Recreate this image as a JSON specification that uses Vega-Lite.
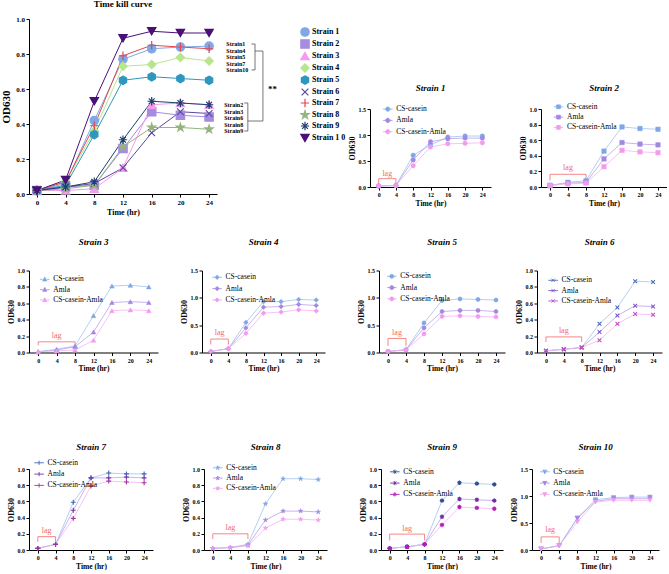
{
"$schema":"https://vega.github.io/schema/vega-lite/v6.json",
"padding":{"left":0,"top":0,"right":0,"bottom":0},
"background":"white",
"config":{
 "font":"Liberation Serif",
 "view":{"stroke":null},
 "title":{"font":"Liberation Serif","fontSize":9,"fontStyle":"italic","fontWeight":"bold","color":"#000","anchor":"middle"},
 "axis":{"domainColor":"#000","tickColor":"#000","labelColor":"#000","titleColor":"#000","domainWidth":1,"tickWidth":1,"tickSize":3,"labelFont":"Liberation Serif","labelFontWeight":"bold","labelFontSize":6,"titleFont":"Liberation Serif","titleFontWeight":"bold","titleFontSize":8,"grid":false,"labelPadding":1.5,"titlePadding":1.5,"labelOverlap":false,"tickCount":50},
 "legend":{"labelFont":"Liberation Serif","labelColor":"#000","labelFontSize":7.5,"padding":0,"rowPadding":1.3,"symbolOpacity":1,"labelOffset":3},
 "text":{"font":"Liberation Serif"}
},
"datasets":{
"main":[
{"strain":"Strain 1","time":0,"od":0.02},{"strain":"Strain 1","time":4,"od":0.06},{"strain":"Strain 1","time":8,"od":0.42},{"strain":"Strain 1","time":12,"od":0.77},{"strain":"Strain 1","time":16,"od":0.83},{"strain":"Strain 1","time":20,"od":0.84},{"strain":"Strain 1","time":24,"od":0.845},
{"strain":"Strain 2","time":0,"od":0.02},{"strain":"Strain 2","time":4,"od":0.04},{"strain":"Strain 2","time":8,"od":0.05},{"strain":"Strain 2","time":12,"od":0.26},{"strain":"Strain 2","time":16,"od":0.47},{"strain":"Strain 2","time":20,"od":0.45},{"strain":"Strain 2","time":24,"od":0.44},
{"strain":"Strain 3","time":0,"od":0.02},{"strain":"Strain 3","time":4,"od":0.02},{"strain":"Strain 3","time":8,"od":0.03},{"strain":"Strain 3","time":12,"od":0.15},{"strain":"Strain 3","time":16,"od":0.51},{"strain":"Strain 3","time":20,"od":0.52},{"strain":"Strain 3","time":24,"od":0.51},
{"strain":"Strain 4","time":0,"od":0.02},{"strain":"Strain 4","time":4,"od":0.07},{"strain":"Strain 4","time":8,"od":0.36},{"strain":"Strain 4","time":12,"od":0.73},{"strain":"Strain 4","time":16,"od":0.74},{"strain":"Strain 4","time":20,"od":0.78},{"strain":"Strain 4","time":24,"od":0.76},
{"strain":"Strain 5","time":0,"od":0.02},{"strain":"Strain 5","time":4,"od":0.05},{"strain":"Strain 5","time":8,"od":0.34},{"strain":"Strain 5","time":12,"od":0.65},{"strain":"Strain 5","time":16,"od":0.67},{"strain":"Strain 5","time":20,"od":0.66},{"strain":"Strain 5","time":24,"od":0.65},
{"strain":"Strain 6","time":0,"od":0.02},{"strain":"Strain 6","time":4,"od":0.04},{"strain":"Strain 6","time":8,"od":0.06},{"strain":"Strain 6","time":12,"od":0.15},{"strain":"Strain 6","time":16,"od":0.35},{"strain":"Strain 6","time":20,"od":0.47},{"strain":"Strain 6","time":24,"od":0.46},
{"strain":"Strain 7","time":0,"od":0.02},{"strain":"Strain 7","time":4,"od":0.07},{"strain":"Strain 7","time":8,"od":0.39},{"strain":"Strain 7","time":12,"od":0.79},{"strain":"Strain 7","time":16,"od":0.85},{"strain":"Strain 7","time":20,"od":0.84},{"strain":"Strain 7","time":24,"od":0.83},
{"strain":"Strain 8","time":0,"od":0.02},{"strain":"Strain 8","time":4,"od":0.03},{"strain":"Strain 8","time":8,"od":0.05},{"strain":"Strain 8","time":12,"od":0.27},{"strain":"Strain 8","time":16,"od":0.38},{"strain":"Strain 8","time":20,"od":0.38},{"strain":"Strain 8","time":24,"od":0.37},
{"strain":"Strain 9","time":0,"od":0.02},{"strain":"Strain 9","time":4,"od":0.04},{"strain":"Strain 9","time":8,"od":0.07},{"strain":"Strain 9","time":12,"od":0.31},{"strain":"Strain 9","time":16,"od":0.53},{"strain":"Strain 9","time":20,"od":0.52},{"strain":"Strain 9","time":24,"od":0.51},
{"strain":"Strain 10","time":0,"od":0.02},{"strain":"Strain 10","time":4,"od":0.08},{"strain":"Strain 10","time":8,"od":0.53},{"strain":"Strain 10","time":12,"od":0.89},{"strain":"Strain 10","time":16,"od":0.93},{"strain":"Strain 10","time":20,"od":0.92},{"strain":"Strain 10","time":24,"od":0.92}
],
"panels":[
{"strain":"Strain 1","trt":"CS-casein","time":0,"od":0.02},{"strain":"Strain 1","trt":"CS-casein","time":4,"od":0.03},{"strain":"Strain 1","trt":"CS-casein","time":8,"od":0.61},{"strain":"Strain 1","trt":"CS-casein","time":12,"od":0.81},{"strain":"Strain 1","trt":"CS-casein","time":16,"od":0.96},{"strain":"Strain 1","trt":"CS-casein","time":20,"od":0.98},{"strain":"Strain 1","trt":"CS-casein","time":24,"od":0.98},
{"strain":"Strain 1","trt":"Amla","time":0,"od":0.02},{"strain":"Strain 1","trt":"Amla","time":4,"od":0.03},{"strain":"Strain 1","trt":"Amla","time":8,"od":0.52},{"strain":"Strain 1","trt":"Amla","time":12,"od":0.87},{"strain":"Strain 1","trt":"Amla","time":16,"od":0.93},{"strain":"Strain 1","trt":"Amla","time":20,"od":0.94},{"strain":"Strain 1","trt":"Amla","time":24,"od":0.94},
{"strain":"Strain 1","trt":"CS-casein-Amla","time":0,"od":0.02},{"strain":"Strain 1","trt":"CS-casein-Amla","time":4,"od":0.03},{"strain":"Strain 1","trt":"CS-casein-Amla","time":8,"od":0.41},{"strain":"Strain 1","trt":"CS-casein-Amla","time":12,"od":0.77},{"strain":"Strain 1","trt":"CS-casein-Amla","time":16,"od":0.83},{"strain":"Strain 1","trt":"CS-casein-Amla","time":20,"od":0.84},{"strain":"Strain 1","trt":"CS-casein-Amla","time":24,"od":0.85},
{"strain":"Strain 2","trt":"CS-casein","time":0,"od":0.02},{"strain":"Strain 2","trt":"CS-casein","time":4,"od":0.06},{"strain":"Strain 2","trt":"CS-casein","time":8,"od":0.08},{"strain":"Strain 2","trt":"CS-casein","time":12,"od":0.46},{"strain":"Strain 2","trt":"CS-casein","time":16,"od":0.77},{"strain":"Strain 2","trt":"CS-casein","time":20,"od":0.75},{"strain":"Strain 2","trt":"CS-casein","time":24,"od":0.74},
{"strain":"Strain 2","trt":"Amla","time":0,"od":0.02},{"strain":"Strain 2","trt":"Amla","time":4,"od":0.05},{"strain":"Strain 2","trt":"Amla","time":8,"od":0.06},{"strain":"Strain 2","trt":"Amla","time":12,"od":0.36},{"strain":"Strain 2","trt":"Amla","time":16,"od":0.57},{"strain":"Strain 2","trt":"Amla","time":20,"od":0.55},{"strain":"Strain 2","trt":"Amla","time":24,"od":0.54},
{"strain":"Strain 2","trt":"CS-casein-Amla","time":0,"od":0.02},{"strain":"Strain 2","trt":"CS-casein-Amla","time":4,"od":0.04},{"strain":"Strain 2","trt":"CS-casein-Amla","time":8,"od":0.05},{"strain":"Strain 2","trt":"CS-casein-Amla","time":12,"od":0.26},{"strain":"Strain 2","trt":"CS-casein-Amla","time":16,"od":0.47},{"strain":"Strain 2","trt":"CS-casein-Amla","time":20,"od":0.45},{"strain":"Strain 2","trt":"CS-casein-Amla","time":24,"od":0.44},
{"strain":"Strain 3","trt":"CS-casein","time":0,"od":0.01},{"strain":"Strain 3","trt":"CS-casein","time":4,"od":0.04},{"strain":"Strain 3","trt":"CS-casein","time":8,"od":0.08},{"strain":"Strain 3","trt":"CS-casein","time":12,"od":0.45},{"strain":"Strain 3","trt":"CS-casein","time":16,"od":0.81},{"strain":"Strain 3","trt":"CS-casein","time":20,"od":0.82},{"strain":"Strain 3","trt":"CS-casein","time":24,"od":0.8},
{"strain":"Strain 3","trt":"Amla","time":0,"od":0.01},{"strain":"Strain 3","trt":"Amla","time":4,"od":0.03},{"strain":"Strain 3","trt":"Amla","time":8,"od":0.07},{"strain":"Strain 3","trt":"Amla","time":12,"od":0.25},{"strain":"Strain 3","trt":"Amla","time":16,"od":0.61},{"strain":"Strain 3","trt":"Amla","time":20,"od":0.62},{"strain":"Strain 3","trt":"Amla","time":24,"od":0.61},
{"strain":"Strain 3","trt":"CS-casein-Amla","time":0,"od":0.01},{"strain":"Strain 3","trt":"CS-casein-Amla","time":4,"od":0.02},{"strain":"Strain 3","trt":"CS-casein-Amla","time":8,"od":0.03},{"strain":"Strain 3","trt":"CS-casein-Amla","time":12,"od":0.15},{"strain":"Strain 3","trt":"CS-casein-Amla","time":16,"od":0.51},{"strain":"Strain 3","trt":"CS-casein-Amla","time":20,"od":0.52},{"strain":"Strain 3","trt":"CS-casein-Amla","time":24,"od":0.51},
{"strain":"Strain 4","trt":"CS-casein","time":0,"od":0.02},{"strain":"Strain 4","trt":"CS-casein","time":4,"od":0.07},{"strain":"Strain 4","trt":"CS-casein","time":8,"od":0.55},{"strain":"Strain 4","trt":"CS-casein","time":12,"od":0.93},{"strain":"Strain 4","trt":"CS-casein","time":16,"od":0.93},{"strain":"Strain 4","trt":"CS-casein","time":20,"od":0.97},{"strain":"Strain 4","trt":"CS-casein","time":24,"od":0.96},
{"strain":"Strain 4","trt":"Amla","time":0,"od":0.02},{"strain":"Strain 4","trt":"Amla","time":4,"od":0.07},{"strain":"Strain 4","trt":"Amla","time":8,"od":0.45},{"strain":"Strain 4","trt":"Amla","time":12,"od":0.83},{"strain":"Strain 4","trt":"Amla","time":16,"od":0.84},{"strain":"Strain 4","trt":"Amla","time":20,"od":0.88},{"strain":"Strain 4","trt":"Amla","time":24,"od":0.86},
{"strain":"Strain 4","trt":"CS-casein-Amla","time":0,"od":0.02},{"strain":"Strain 4","trt":"CS-casein-Amla","time":4,"od":0.07},{"strain":"Strain 4","trt":"CS-casein-Amla","time":8,"od":0.35},{"strain":"Strain 4","trt":"CS-casein-Amla","time":12,"od":0.72},{"strain":"Strain 4","trt":"CS-casein-Amla","time":16,"od":0.74},{"strain":"Strain 4","trt":"CS-casein-Amla","time":20,"od":0.78},{"strain":"Strain 4","trt":"CS-casein-Amla","time":24,"od":0.76},
{"strain":"Strain 5","trt":"CS-casein","time":0,"od":0.02},{"strain":"Strain 5","trt":"CS-casein","time":4,"od":0.05},{"strain":"Strain 5","trt":"CS-casein","time":8,"od":0.54},{"strain":"Strain 5","trt":"CS-casein","time":12,"od":0.95},{"strain":"Strain 5","trt":"CS-casein","time":16,"od":0.98},{"strain":"Strain 5","trt":"CS-casein","time":20,"od":0.97},{"strain":"Strain 5","trt":"CS-casein","time":24,"od":0.96},
{"strain":"Strain 5","trt":"Amla","time":0,"od":0.02},{"strain":"Strain 5","trt":"Amla","time":4,"od":0.05},{"strain":"Strain 5","trt":"Amla","time":8,"od":0.45},{"strain":"Strain 5","trt":"Amla","time":12,"od":0.75},{"strain":"Strain 5","trt":"Amla","time":16,"od":0.77},{"strain":"Strain 5","trt":"Amla","time":20,"od":0.77},{"strain":"Strain 5","trt":"Amla","time":24,"od":0.75},
{"strain":"Strain 5","trt":"CS-casein-Amla","time":0,"od":0.02},{"strain":"Strain 5","trt":"CS-casein-Amla","time":4,"od":0.05},{"strain":"Strain 5","trt":"CS-casein-Amla","time":8,"od":0.34},{"strain":"Strain 5","trt":"CS-casein-Amla","time":12,"od":0.66},{"strain":"Strain 5","trt":"CS-casein-Amla","time":16,"od":0.67},{"strain":"Strain 5","trt":"CS-casein-Amla","time":20,"od":0.66},{"strain":"Strain 5","trt":"CS-casein-Amla","time":24,"od":0.65},
{"strain":"Strain 6","trt":"CS-casein","time":0,"od":0.02},{"strain":"Strain 6","trt":"CS-casein","time":4,"od":0.04},{"strain":"Strain 6","trt":"CS-casein","time":8,"od":0.06},{"strain":"Strain 6","trt":"CS-casein","time":12,"od":0.35},{"strain":"Strain 6","trt":"CS-casein","time":16,"od":0.55},{"strain":"Strain 6","trt":"CS-casein","time":20,"od":0.87},{"strain":"Strain 6","trt":"CS-casein","time":24,"od":0.86},
{"strain":"Strain 6","trt":"Amla","time":0,"od":0.02},{"strain":"Strain 6","trt":"Amla","time":4,"od":0.04},{"strain":"Strain 6","trt":"Amla","time":8,"od":0.06},{"strain":"Strain 6","trt":"Amla","time":12,"od":0.25},{"strain":"Strain 6","trt":"Amla","time":16,"od":0.45},{"strain":"Strain 6","trt":"Amla","time":20,"od":0.57},{"strain":"Strain 6","trt":"Amla","time":24,"od":0.56},
{"strain":"Strain 6","trt":"CS-casein-Amla","time":0,"od":0.02},{"strain":"Strain 6","trt":"CS-casein-Amla","time":4,"od":0.04},{"strain":"Strain 6","trt":"CS-casein-Amla","time":8,"od":0.06},{"strain":"Strain 6","trt":"CS-casein-Amla","time":12,"od":0.15},{"strain":"Strain 6","trt":"CS-casein-Amla","time":16,"od":0.35},{"strain":"Strain 6","trt":"CS-casein-Amla","time":20,"od":0.47},{"strain":"Strain 6","trt":"CS-casein-Amla","time":24,"od":0.46},
{"strain":"Strain 7","trt":"CS-casein","time":0,"od":0.02},{"strain":"Strain 7","trt":"CS-casein","time":4,"od":0.07},{"strain":"Strain 7","trt":"CS-casein","time":8,"od":0.59},{"strain":"Strain 7","trt":"CS-casein","time":12,"od":0.89},{"strain":"Strain 7","trt":"CS-casein","time":16,"od":0.95},{"strain":"Strain 7","trt":"CS-casein","time":20,"od":0.94},{"strain":"Strain 7","trt":"CS-casein","time":24,"od":0.94},
{"strain":"Strain 7","trt":"Amla","time":0,"od":0.02},{"strain":"Strain 7","trt":"Amla","time":4,"od":0.07},{"strain":"Strain 7","trt":"Amla","time":8,"od":0.49},{"strain":"Strain 7","trt":"Amla","time":12,"od":0.89},{"strain":"Strain 7","trt":"Amla","time":16,"od":0.89},{"strain":"Strain 7","trt":"Amla","time":20,"od":0.9},{"strain":"Strain 7","trt":"Amla","time":24,"od":0.89},
{"strain":"Strain 7","trt":"CS-casein-Amla","time":0,"od":0.02},{"strain":"Strain 7","trt":"CS-casein-Amla","time":4,"od":0.07},{"strain":"Strain 7","trt":"CS-casein-Amla","time":8,"od":0.39},{"strain":"Strain 7","trt":"CS-casein-Amla","time":12,"od":0.79},{"strain":"Strain 7","trt":"CS-casein-Amla","time":16,"od":0.85},{"strain":"Strain 7","trt":"CS-casein-Amla","time":20,"od":0.84},{"strain":"Strain 7","trt":"CS-casein-Amla","time":24,"od":0.83},
{"strain":"Strain 8","trt":"CS-casein","time":0,"od":0.02},{"strain":"Strain 8","trt":"CS-casein","time":4,"od":0.03},{"strain":"Strain 8","trt":"CS-casein","time":8,"od":0.07},{"strain":"Strain 8","trt":"CS-casein","time":12,"od":0.57},{"strain":"Strain 8","trt":"CS-casein","time":16,"od":0.88},{"strain":"Strain 8","trt":"CS-casein","time":20,"od":0.88},{"strain":"Strain 8","trt":"CS-casein","time":24,"od":0.87},
{"strain":"Strain 8","trt":"Amla","time":0,"od":0.02},{"strain":"Strain 8","trt":"Amla","time":4,"od":0.03},{"strain":"Strain 8","trt":"Amla","time":8,"od":0.06},{"strain":"Strain 8","trt":"Amla","time":12,"od":0.37},{"strain":"Strain 8","trt":"Amla","time":16,"od":0.48},{"strain":"Strain 8","trt":"Amla","time":20,"od":0.48},{"strain":"Strain 8","trt":"Amla","time":24,"od":0.47},
{"strain":"Strain 8","trt":"CS-casein-Amla","time":0,"od":0.02},{"strain":"Strain 8","trt":"CS-casein-Amla","time":4,"od":0.03},{"strain":"Strain 8","trt":"CS-casein-Amla","time":8,"od":0.05},{"strain":"Strain 8","trt":"CS-casein-Amla","time":12,"od":0.27},{"strain":"Strain 8","trt":"CS-casein-Amla","time":16,"od":0.38},{"strain":"Strain 8","trt":"CS-casein-Amla","time":20,"od":0.38},{"strain":"Strain 8","trt":"CS-casein-Amla","time":24,"od":0.37},
{"strain":"Strain 9","trt":"CS-casein","time":0,"od":0.02},{"strain":"Strain 9","trt":"CS-casein","time":4,"od":0.04},{"strain":"Strain 9","trt":"CS-casein","time":8,"od":0.07},{"strain":"Strain 9","trt":"CS-casein","time":12,"od":0.61},{"strain":"Strain 9","trt":"CS-casein","time":16,"od":0.83},{"strain":"Strain 9","trt":"CS-casein","time":20,"od":0.82},{"strain":"Strain 9","trt":"CS-casein","time":24,"od":0.81},
{"strain":"Strain 9","trt":"Amla","time":0,"od":0.02},{"strain":"Strain 9","trt":"Amla","time":4,"od":0.04},{"strain":"Strain 9","trt":"Amla","time":8,"od":0.07},{"strain":"Strain 9","trt":"Amla","time":12,"od":0.41},{"strain":"Strain 9","trt":"Amla","time":16,"od":0.63},{"strain":"Strain 9","trt":"Amla","time":20,"od":0.62},{"strain":"Strain 9","trt":"Amla","time":24,"od":0.61},
{"strain":"Strain 9","trt":"CS-casein-Amla","time":0,"od":0.02},{"strain":"Strain 9","trt":"CS-casein-Amla","time":4,"od":0.04},{"strain":"Strain 9","trt":"CS-casein-Amla","time":8,"od":0.07},{"strain":"Strain 9","trt":"CS-casein-Amla","time":12,"od":0.31},{"strain":"Strain 9","trt":"CS-casein-Amla","time":16,"od":0.53},{"strain":"Strain 9","trt":"CS-casein-Amla","time":20,"od":0.52},{"strain":"Strain 9","trt":"CS-casein-Amla","time":24,"od":0.51},
{"strain":"Strain 10","trt":"CS-casein","time":0,"od":0.02},{"strain":"Strain 10","trt":"CS-casein","time":4,"od":0.08},{"strain":"Strain 10","trt":"CS-casein","time":8,"od":0.59},{"strain":"Strain 10","trt":"CS-casein","time":12,"od":0.93},{"strain":"Strain 10","trt":"CS-casein","time":16,"od":0.97},{"strain":"Strain 10","trt":"CS-casein","time":20,"od":0.98},{"strain":"Strain 10","trt":"CS-casein","time":24,"od":0.98},
{"strain":"Strain 10","trt":"Amla","time":0,"od":0.02},{"strain":"Strain 10","trt":"Amla","time":4,"od":0.08},{"strain":"Strain 10","trt":"Amla","time":8,"od":0.59},{"strain":"Strain 10","trt":"Amla","time":12,"od":0.9},{"strain":"Strain 10","trt":"Amla","time":16,"od":0.95},{"strain":"Strain 10","trt":"Amla","time":20,"od":0.95},{"strain":"Strain 10","trt":"Amla","time":24,"od":0.95},
{"strain":"Strain 10","trt":"CS-casein-Amla","time":0,"od":0.02},{"strain":"Strain 10","trt":"CS-casein-Amla","time":4,"od":0.08},{"strain":"Strain 10","trt":"CS-casein-Amla","time":8,"od":0.52},{"strain":"Strain 10","trt":"CS-casein-Amla","time":12,"od":0.89},{"strain":"Strain 10","trt":"CS-casein-Amla","time":16,"od":0.92},{"strain":"Strain 10","trt":"CS-casein-Amla","time":20,"od":0.92},{"strain":"Strain 10","trt":"CS-casein-Amla","time":24,"od":0.92}
]
},
"resolve":{"scale":{"color":"independent","fill":"independent","stroke":"independent","shape":"independent"},"legend":{"color":"independent","fill":"independent","stroke":"independent","shape":"independent"}},
"columns":1,
"align":"none",
"spacing":20.5,
"concat":[
{"spacing":2,
 "resolve":{"scale":{"color":"independent","fill":"independent","stroke":"independent","shape":"independent"},"legend":{"color":"independent","fill":"independent","stroke":"independent","shape":"independent"}},
 "hconcat":[
 {"width":188,"height":175,
  "title":{"text":"Time kill curve","fontStyle":"normal","fontSize":9,"offset":6},
  "layer":[
   {"data":{"name":"main"},"mark":{"type":"line","strokeWidth":1},
    "encoding":{
     "x":{"field":"time","type":"quantitative","scale":{"domain":[-1.1,25.1]},"axis":{"values":[0,4,8,12,16,20,24],"tickCount":50,"format":"d","title":"Time (hr)","labelFontSize":7,"titleFontSize":8,"titlePadding":3,"labelOverlap":false}},
     "y":{"field":"od","type":"quantitative","scale":{"domain":[0,1]},"axis":{"values":[0,0.2,0.4,0.6,0.8,1],"tickCount":50,"format":".1f","title":"OD630","labelFontSize":7,"titleFontSize":11,"titlePadding":4,"labelOverlap":false}},
     "color":{"field":"strain","type":"nominal","scale":{"domain":["Strain 10","Strain 9","Strain 8","Strain 7","Strain 6","Strain 5","Strain 4","Strain 3","Strain 2","Strain 1"],"range":["#4A1078","#1E3F6F","#93B57E","#E2484E","#5B4A9C","#2F97BD","#B8E58F","#F59BEF","#A58CE0","#7FA8E6"]},"legend":null}}},
   {"data":{"name":"main"},"mark":{"type":"point","filled":true,"opacity":1,"size":70,"strokeWidth":1.2},
    "encoding":{
     "x":{"field":"time","type":"quantitative","scale":{"domain":[-1.1,25.1]}},
     "y":{"field":"od","type":"quantitative","scale":{"domain":[0,1]}},
     "fill":{"field":"strain","type":"nominal","scale":{"domain":["Strain 1","Strain 2","Strain 3","Strain 4","Strain 5","Strain 6","Strain 7","Strain 8","Strain 9","Strain 10"],"range":["#7FA8E6","#A58CE0","#F59BEF","#B8E58F","#2F97BD","#5B4A9C","#E2484E","#93B57E","#1E3F6F","#4A1078"]},"legend":{"title":null,"orient":"none","legendX":271,"legendY":8,"labelFontSize":8,"labelFontWeight":"bold","symbolSize":70,"rowPadding":-2.85,"labelOffset":2,"symbolStrokeWidth":1.2,"labelExpr":"datum.label == 'Strain 10' ? 'Strain 1 0' : datum.label"}},
     "stroke":{"field":"strain","type":"nominal","scale":{"domain":["Strain 1","Strain 2","Strain 3","Strain 4","Strain 5","Strain 6","Strain 7","Strain 8","Strain 9","Strain 10"],"range":["#7FA8E6","#A58CE0","#F59BEF","#B8E58F","#2F97BD","#5B4A9C","#E2484E","#93B57E","#1E3F6F","#4A1078"]},"legend":{"title":null,"orient":"none","legendX":271,"legendY":8,"labelFontSize":8,"labelFontWeight":"bold","symbolSize":70,"rowPadding":-2.85,"labelOffset":2,"symbolStrokeWidth":1.2,"labelExpr":"datum.label == 'Strain 10' ? 'Strain 1 0' : datum.label"}},
     "shape":{"field":"strain","type":"nominal","scale":{"domain":["Strain 1","Strain 2","Strain 3","Strain 4","Strain 5","Strain 6","Strain 7","Strain 8","Strain 9","Strain 10"],"range":["circle","square","triangle-up","diamond","M0,-1L0.87,-0.5L0.87,0.5L0,1L-0.87,0.5L-0.87,-0.5Z","M-0.8,-0.8L0.8,0.8M-0.8,0.8L0.8,-0.8","M0,-1L0,1M-1,0L1,0","M0,-1L0.22,-0.31L0.95,-0.31L0.36,0.12L0.59,0.81L0,0.38L-0.59,0.81L-0.36,0.12L-0.95,-0.31L-0.22,-0.31Z","M0,-1L0,1M-1,0L1,0M-0.7,-0.7L0.7,0.7M-0.7,0.7L0.7,-0.7","triangle-down"]},"legend":{"title":null,"orient":"none","legendX":271,"legendY":8,"labelFontSize":8,"labelFontWeight":"bold","symbolSize":70,"rowPadding":-2.85,"labelOffset":2,"symbolStrokeWidth":1.2,"labelExpr":"datum.label == 'Strain 10' ? 'Strain 1 0' : datum.label"}}}},
   {"data":{"values":[{}]},"mark":{"type":"text","text":["Strain1","Strain4","Strain5","Strain7","Strain10"],"align":"left","baseline":"middle","fontSize":6,"fontWeight":"bold","lineHeight":6.6},"encoding":{"x":{"datum":26.4,"type":"quantitative","scale":{"domain":[-1.1,25.1]}},"y":{"datum":0.857,"type":"quantitative","scale":{"domain":[0,1]}}}},
   {"data":{"values":[{}]},"mark":{"type":"text","text":["Strain2","Strain3","Strain6","Strain8","Strain9"],"align":"left","baseline":"middle","fontSize":6,"fontWeight":"bold","lineHeight":6.6},"encoding":{"x":{"datum":26.1,"type":"quantitative","scale":{"domain":[-1.1,25.1]}},"y":{"datum":0.509,"type":"quantitative","scale":{"domain":[0,1]}}}},
   {"data":{"values":[{}]},"mark":{"type":"rule","color":"#555","strokeWidth":0.8},"encoding":{"x":{"datum":30.4,"type":"quantitative","scale":{"domain":[-1.1,25.1]}},"y":{"datum":0.709,"type":"quantitative","scale":{"domain":[0,1]}},"y2":{"datum":0.857}}},
   {"data":{"values":[{}]},"mark":{"type":"rule","color":"#555","strokeWidth":0.8},"encoding":{"x":{"datum":29.9,"type":"quantitative","scale":{"domain":[-1.1,25.1]}},"x2":{"datum":30.4},"y":{"datum":0.857,"type":"quantitative","scale":{"domain":[0,1]}}}},
   {"data":{"values":[{}]},"mark":{"type":"rule","color":"#555","strokeWidth":0.8},"encoding":{"x":{"datum":29.9,"type":"quantitative","scale":{"domain":[-1.1,25.1]}},"x2":{"datum":30.4},"y":{"datum":0.709,"type":"quantitative","scale":{"domain":[0,1]}}}},
   {"data":{"values":[{}]},"mark":{"type":"rule","color":"#555","strokeWidth":0.8},"encoding":{"x":{"datum":30.4,"type":"quantitative","scale":{"domain":[-1.1,25.1]}},"x2":{"datum":31.5},"y":{"datum":0.817,"type":"quantitative","scale":{"domain":[0,1]}}}},
   {"data":{"values":[{}]},"mark":{"type":"rule","color":"#555","strokeWidth":0.8},"encoding":{"x":{"datum":29.4,"type":"quantitative","scale":{"domain":[-1.1,25.1]}},"y":{"datum":0.36,"type":"quantitative","scale":{"domain":[0,1]}},"y2":{"datum":0.52}}},
   {"data":{"values":[{}]},"mark":{"type":"rule","color":"#555","strokeWidth":0.8},"encoding":{"x":{"datum":28.9,"type":"quantitative","scale":{"domain":[-1.1,25.1]}},"x2":{"datum":29.4},"y":{"datum":0.52,"type":"quantitative","scale":{"domain":[0,1]}}}},
   {"data":{"values":[{}]},"mark":{"type":"rule","color":"#555","strokeWidth":0.8},"encoding":{"x":{"datum":28.9,"type":"quantitative","scale":{"domain":[-1.1,25.1]}},"x2":{"datum":29.4},"y":{"datum":0.36,"type":"quantitative","scale":{"domain":[0,1]}}}},
   {"data":{"values":[{}]},"mark":{"type":"rule","color":"#555","strokeWidth":0.8},"encoding":{"x":{"datum":29.4,"type":"quantitative","scale":{"domain":[-1.1,25.1]}},"x2":{"datum":31.5},"y":{"datum":0.417,"type":"quantitative","scale":{"domain":[0,1]}}}},
   {"data":{"values":[{}]},"mark":{"type":"rule","color":"#555","strokeWidth":0.8},"encoding":{"x":{"datum":31.5,"type":"quantitative","scale":{"domain":[-1.1,25.1]}},"y":{"datum":0.417,"type":"quantitative","scale":{"domain":[0,1]}},"y2":{"datum":0.817}}},
   {"data":{"values":[{}]},"mark":{"type":"text","text":"**","align":"left","baseline":"middle","fontSize":9,"fontWeight":"bold"},"encoding":{"x":{"datum":32.2,"type":"quantitative","scale":{"domain":[-1.1,25.1]}},"y":{"datum":0.6,"type":"quantitative","scale":{"domain":[0,1]}}}}
  ]},
 {"spacing":6,
  "resolve":{"scale":{"color":"independent","fill":"independent","stroke":"independent","shape":"independent"},"legend":{"color":"independent","fill":"independent","stroke":"independent","shape":"independent"}},
  "vconcat":[
  {"width":1,"height":58,"data":{"values":[]},"mark":{"type":"point"}},
  {"spacing":28,
   "resolve":{"scale":{"color":"independent","fill":"independent","stroke":"independent","shape":"independent"},"legend":{"color":"independent","fill":"independent","stroke":"independent","shape":"independent"}},
   "hconcat":[
   {"width":121,"height":78,"title":{"text":"Strain 1","offset":11.1,"frame":"group"},
    "layer":[
     {"data":{"values":[{}]},"mark":{"type":"rule","color":"#F06A6A","strokeWidth":0.8},"encoding":{"x":{"datum":0,"type":"quantitative","scale":{"domain":[-2,26]}},"x2":{"datum":4},"y":{"datum":0.16,"type":"quantitative","scale":{"domain":[0,1.5]}}}},
     {"data":{"values":[{}]},"mark":{"type":"rule","color":"#F06A6A","strokeWidth":0.8},"encoding":{"x":{"datum":0,"type":"quantitative","scale":{"domain":[-2,26]}},"y":{"datum":0.05,"type":"quantitative","scale":{"domain":[0,1.5]}},"y2":{"datum":0.16}}},
     {"data":{"values":[{}]},"mark":{"type":"rule","color":"#F06A6A","strokeWidth":0.8},"encoding":{"x":{"datum":4,"type":"quantitative","scale":{"domain":[-2,26]}},"y":{"datum":0.05,"type":"quantitative","scale":{"domain":[0,1.5]}},"y2":{"datum":0.16}}},
     {"data":{"values":[{}]},"mark":{"type":"text","text":"lag","color":"#F06A6A","fontSize":8,"baseline":"middle"},"encoding":{"x":{"datum":2,"type":"quantitative","scale":{"domain":[-2,26]}},"y":{"datum":0.245,"type":"quantitative","scale":{"domain":[0,1.5]}}}},
     {"data":{"name":"panels"},"transform":[{"filter":"datum.strain == 'Strain 1'"}],"mark":{"type":"line","strokeWidth":0.8},"encoding":{"x":{"field":"time","type":"quantitative","scale":{"domain":[-2,26]},"axis":{"values":[0,4,8,12,16,20,24],"tickCount":50,"format":"d","title":"Time (hr)","titleFontSize":7.5,"labelOverlap":false}},"y":{"field":"od","type":"quantitative","scale":{"domain":[0,1.5]},"axis":{"values":[0,0.5,1,1.5],"tickCount":50,"format":".1f","title":"OD630","labelOverlap":false}},"color":{"field":"trt","type":"nominal","scale":{"domain":["CS-casein-Amla","Amla","CS-casein"],"range":["#F5B4F1","#B9A2EA","#A3C1EF"]},"legend":null}}},
     {"data":{"name":"panels"},"transform":[{"filter":"datum.strain == 'Strain 1'"}],"mark":{"type":"point","filled":true,"opacity":1,"size":20,"strokeWidth":0.5,"shape":"circle"},"encoding":{"x":{"field":"time","type":"quantitative","scale":{"domain":[-2,26]}},"y":{"field":"od","type":"quantitative","scale":{"domain":[0,1.5]}},
      "fill":{"field":"trt","type":"nominal","scale":{"domain":["CS-casein","Amla","CS-casein-Amla"],"range":["#7FA7E6","#A287E3","#F29BEE"]},"legend":{"title":null,"orient":"none","legendX":12.3,"legendY":-5.4,"symbolType":"M-1,0L-0.45,0M0.45,0L1,0M0.45,0A0.45,0.45 0 1 1 -0.45,0A0.45,0.45 0 1 1 0.45,0Z","symbolSize":90,"symbolStrokeWidth":0.8}},
      "stroke":{"field":"trt","type":"nominal","scale":{"domain":["CS-casein","Amla","CS-casein-Amla"],"range":["#7FA7E6","#A287E3","#F29BEE"]},"legend":{"title":null,"orient":"none","legendX":12.3,"legendY":-5.4,"symbolType":"M-1,0L-0.45,0M0.45,0L1,0M0.45,0A0.45,0.45 0 1 1 -0.45,0A0.45,0.45 0 1 1 0.45,0Z","symbolSize":90,"symbolStrokeWidth":0.8}}}}
    ]},
   {"width":126,"height":78,"title":{"text":"Strain 2","offset":8.8,"frame":"group"},
    "layer":[
     {"data":{"values":[{}]},"mark":{"type":"rule","color":"#F06A6A","strokeWidth":0.8},"encoding":{"x":{"datum":0,"type":"quantitative","scale":{"domain":[-2,26]}},"x2":{"datum":8},"y":{"datum":0.163,"type":"quantitative","scale":{"domain":[0,1]}}}},
     {"data":{"values":[{}]},"mark":{"type":"rule","color":"#F06A6A","strokeWidth":0.8},"encoding":{"x":{"datum":0,"type":"quantitative","scale":{"domain":[-2,26]}},"y":{"datum":0.083,"type":"quantitative","scale":{"domain":[0,1]}},"y2":{"datum":0.163}}},
     {"data":{"values":[{}]},"mark":{"type":"rule","color":"#F06A6A","strokeWidth":0.8},"encoding":{"x":{"datum":8,"type":"quantitative","scale":{"domain":[-2,26]}},"y":{"datum":0.083,"type":"quantitative","scale":{"domain":[0,1]}},"y2":{"datum":0.163}}},
     {"data":{"values":[{}]},"mark":{"type":"text","text":"lag","color":"#F06A6A","fontSize":8,"baseline":"middle"},"encoding":{"x":{"datum":4,"type":"quantitative","scale":{"domain":[-2,26]}},"y":{"datum":0.25,"type":"quantitative","scale":{"domain":[0,1]}}}},
     {"data":{"name":"panels"},"transform":[{"filter":"datum.strain == 'Strain 2'"}],"mark":{"type":"line","strokeWidth":0.8},"encoding":{"x":{"field":"time","type":"quantitative","scale":{"domain":[-2,26]},"axis":{"values":[0,4,8,12,16,20,24],"tickCount":50,"format":"d","title":"Time (hr)","titleFontSize":7.5,"labelOverlap":false}},"y":{"field":"od","type":"quantitative","scale":{"domain":[0,1]},"axis":{"values":[0,0.2,0.4,0.6,0.8,1],"tickCount":50,"format":".1f","title":"OD630","labelOverlap":false}},"color":{"field":"trt","type":"nominal","scale":{"domain":["CS-casein-Amla","Amla","CS-casein"],"range":["#F5B4F1","#B9A2EA","#A3C1EF"]},"legend":null}}},
     {"data":{"name":"panels"},"transform":[{"filter":"datum.strain == 'Strain 2'"}],"mark":{"type":"point","filled":true,"opacity":1,"size":20,"strokeWidth":0.5,"shape":"square"},"encoding":{"x":{"field":"time","type":"quantitative","scale":{"domain":[-2,26]}},"y":{"field":"od","type":"quantitative","scale":{"domain":[0,1]}},
      "fill":{"field":"trt","type":"nominal","scale":{"domain":["CS-casein","Amla","CS-casein-Amla"],"range":["#7FA7E6","#A287E3","#F29BEE"]},"legend":{"title":null,"orient":"none","legendX":12,"legendY":-7.7,"symbolType":"M-1,0L-0.4,0M0.4,0L1,0M-0.4,-0.4L0.4,-0.4L0.4,0.4L-0.4,0.4Z","symbolSize":90,"symbolStrokeWidth":0.8}},
      "stroke":{"field":"trt","type":"nominal","scale":{"domain":["CS-casein","Amla","CS-casein-Amla"],"range":["#7FA7E6","#A287E3","#F29BEE"]},"legend":{"title":null,"orient":"none","legendX":12,"legendY":-7.7,"symbolType":"M-1,0L-0.4,0M0.4,0L1,0M-0.4,-0.4L0.4,-0.4L0.4,0.4L-0.4,0.4Z","symbolSize":90,"symbolStrokeWidth":0.8}}}}
    ]}
   ]}
  ]}
 ]},
{"spacing":69.5,
 "resolve":{"scale":{"color":"independent","fill":"independent","stroke":"independent","shape":"independent"},"legend":{"color":"independent","fill":"independent","stroke":"independent","shape":"independent"}},
 "vconcat":[
 {"spacing":22,
  "resolve":{"scale":{"color":"independent","fill":"independent","stroke":"independent","shape":"independent"},"legend":{"color":"independent","fill":"independent","stroke":"independent","shape":"independent"}},
  "hconcat":[
  {"width":129,"height":82,"title":{"text":"Strain 3","offset":20.5,"frame":"group"},
   "layer":[
    {"data":{"values":[{}]},"mark":{"type":"rule","color":"#F06A6A","strokeWidth":0.8},"encoding":{"x":{"datum":0,"type":"quantitative","scale":{"domain":[-2,26]}},"x2":{"datum":8},"y":{"datum":0.13,"type":"quantitative","scale":{"domain":[0,1]}}}},
    {"data":{"values":[{}]},"mark":{"type":"rule","color":"#F06A6A","strokeWidth":0.8},"encoding":{"x":{"datum":0,"type":"quantitative","scale":{"domain":[-2,26]}},"y":{"datum":0.085,"type":"quantitative","scale":{"domain":[0,1]}},"y2":{"datum":0.13}}},
    {"data":{"values":[{}]},"mark":{"type":"rule","color":"#F06A6A","strokeWidth":0.8},"encoding":{"x":{"datum":8,"type":"quantitative","scale":{"domain":[-2,26]}},"y":{"datum":0.085,"type":"quantitative","scale":{"domain":[0,1]}},"y2":{"datum":0.13}}},
    {"data":{"values":[{}]},"mark":{"type":"text","text":"lag","color":"#F06A6A","fontSize":8,"baseline":"middle"},"encoding":{"x":{"datum":4,"type":"quantitative","scale":{"domain":[-2,26]}},"y":{"datum":0.2,"type":"quantitative","scale":{"domain":[0,1]}}}},
    {"data":{"name":"panels"},"transform":[{"filter":"datum.strain == 'Strain 3'"}],"mark":{"type":"line","strokeWidth":0.8},"encoding":{"x":{"field":"time","type":"quantitative","scale":{"domain":[-2,26]},"axis":{"values":[0,4,8,12,16,20,24],"tickCount":50,"format":"d","title":"Time (hr)","titleFontSize":7.5,"labelOverlap":false}},"y":{"field":"od","type":"quantitative","scale":{"domain":[0,1]},"axis":{"values":[0,0.2,0.4,0.6,0.8,1],"tickCount":50,"format":".1f","title":"OD630","labelOverlap":false}},"color":{"field":"trt","type":"nominal","scale":{"domain":["CS-casein-Amla","Amla","CS-casein"],"range":["#F5B4F1","#B9A2EA","#A3C1EF"]},"legend":null}}},
    {"data":{"name":"panels"},"transform":[{"filter":"datum.strain == 'Strain 3'"}],"mark":{"type":"point","filled":true,"opacity":1,"size":22,"strokeWidth":0.5,"shape":"triangle-up"},"encoding":{"x":{"field":"time","type":"quantitative","scale":{"domain":[-2,26]}},"y":{"field":"od","type":"quantitative","scale":{"domain":[0,1]}},
     "fill":{"field":"trt","type":"nominal","scale":{"domain":["CS-casein","Amla","CS-casein-Amla"],"range":["#7FA7E6","#A287E3","#F29BEE"]},"legend":{"title":null,"orient":"none","legendX":10.3,"legendY":3.3,"symbolType":"M-1,0L-0.45,0M0.45,0L1,0M0,-0.45L0.45,0.35L-0.45,0.35Z","symbolSize":90,"symbolStrokeWidth":0.8}},
     "stroke":{"field":"trt","type":"nominal","scale":{"domain":["CS-casein","Amla","CS-casein-Amla"],"range":["#7FA7E6","#A287E3","#F29BEE"]},"legend":{"title":null,"orient":"none","legendX":10.3,"legendY":3.3,"symbolType":"M-1,0L-0.45,0M0.45,0L1,0M0,-0.45L0.45,0.35L-0.45,0.35Z","symbolSize":90,"symbolStrokeWidth":0.8}}}}
   ]},
  {"spacing":32,
   "resolve":{"scale":{"color":"independent","fill":"independent","stroke":"independent","shape":"independent"},"legend":{"color":"independent","fill":"independent","stroke":"independent","shape":"independent"}},
   "hconcat":[
   {"width":123,"height":82,"title":{"text":"Strain 4","offset":20.5,"frame":"group"},
    "layer":[
     {"data":{"values":[{}]},"mark":{"type":"rule","color":"#F06A6A","strokeWidth":0.8},"encoding":{"x":{"datum":0,"type":"quantitative","scale":{"domain":[-2,26]}},"x2":{"datum":4},"y":{"datum":0.246,"type":"quantitative","scale":{"domain":[0,1.5]}}}},
     {"data":{"values":[{}]},"mark":{"type":"rule","color":"#F06A6A","strokeWidth":0.8},"encoding":{"x":{"datum":0,"type":"quantitative","scale":{"domain":[-2,26]}},"y":{"datum":0.145,"type":"quantitative","scale":{"domain":[0,1.5]}},"y2":{"datum":0.246}}},
     {"data":{"values":[{}]},"mark":{"type":"rule","color":"#F06A6A","strokeWidth":0.8},"encoding":{"x":{"datum":4,"type":"quantitative","scale":{"domain":[-2,26]}},"y":{"datum":0.145,"type":"quantitative","scale":{"domain":[0,1.5]}},"y2":{"datum":0.246}}},
     {"data":{"values":[{}]},"mark":{"type":"text","text":"lag","color":"#F06A6A","fontSize":8,"baseline":"middle"},"encoding":{"x":{"datum":2,"type":"quantitative","scale":{"domain":[-2,26]}},"y":{"datum":0.35,"type":"quantitative","scale":{"domain":[0,1.5]}}}},
     {"data":{"name":"panels"},"transform":[{"filter":"datum.strain == 'Strain 4'"}],"mark":{"type":"line","strokeWidth":0.8},"encoding":{"x":{"field":"time","type":"quantitative","scale":{"domain":[-2,26]},"axis":{"values":[0,4,8,12,16,20,24],"tickCount":50,"format":"d","title":"Time (hr)","titleFontSize":7.5,"labelOverlap":false}},"y":{"field":"od","type":"quantitative","scale":{"domain":[0,1.5]},"axis":{"values":[0,0.5,1,1.5],"tickCount":50,"format":".1f","title":"OD630","labelOverlap":false}},"color":{"field":"trt","type":"nominal","scale":{"domain":["CS-casein-Amla","Amla","CS-casein"],"range":["#F5B4F1","#B9A2EA","#A3C1EF"]},"legend":null}}},
     {"data":{"name":"panels"},"transform":[{"filter":"datum.strain == 'Strain 4'"}],"mark":{"type":"point","filled":true,"opacity":1,"size":22,"strokeWidth":0.5,"shape":"diamond"},"encoding":{"x":{"field":"time","type":"quantitative","scale":{"domain":[-2,26]}},"y":{"field":"od","type":"quantitative","scale":{"domain":[0,1.5]}},
      "fill":{"field":"trt","type":"nominal","scale":{"domain":["CS-casein","Amla","CS-casein-Amla"],"range":["#7FA7E6","#A287E3","#F29BEE"]},"legend":{"title":null,"orient":"none","legendX":9.6,"legendY":1.3,"symbolType":"M-1,0L-0.45,0M0.45,0L1,0M0,-0.45L0.45,0L0,0.45L-0.45,0Z","symbolSize":90,"symbolStrokeWidth":0.8}},
      "stroke":{"field":"trt","type":"nominal","scale":{"domain":["CS-casein","Amla","CS-casein-Amla"],"range":["#7FA7E6","#A287E3","#F29BEE"]},"legend":{"title":null,"orient":"none","legendX":9.6,"legendY":1.3,"symbolType":"M-1,0L-0.45,0M0.45,0L1,0M0,-0.45L0.45,0L0,0.45L-0.45,0Z","symbolSize":90,"symbolStrokeWidth":0.8}}}}
    ]},
   {"spacing":10,
    "resolve":{"scale":{"color":"independent","fill":"independent","stroke":"independent","shape":"independent"},"legend":{"color":"independent","fill":"independent","stroke":"independent","shape":"independent"}},
    "hconcat":[
    {"width":126,"height":82,"title":{"text":"Strain 5","offset":20.5,"frame":"group"},
     "layer":[
      {"data":{"values":[{}]},"mark":{"type":"rule","color":"#F06A6A","strokeWidth":0.8},"encoding":{"x":{"datum":0,"type":"quantitative","scale":{"domain":[-2,26]}},"x2":{"datum":4},"y":{"datum":0.257,"type":"quantitative","scale":{"domain":[0,1.5]}}}},
      {"data":{"values":[{}]},"mark":{"type":"rule","color":"#F06A6A","strokeWidth":0.8},"encoding":{"x":{"datum":0,"type":"quantitative","scale":{"domain":[-2,26]}},"y":{"datum":0.12,"type":"quantitative","scale":{"domain":[0,1.5]}},"y2":{"datum":0.257}}},
      {"data":{"values":[{}]},"mark":{"type":"rule","color":"#F06A6A","strokeWidth":0.8},"encoding":{"x":{"datum":4,"type":"quantitative","scale":{"domain":[-2,26]}},"y":{"datum":0.12,"type":"quantitative","scale":{"domain":[0,1.5]}},"y2":{"datum":0.257}}},
      {"data":{"values":[{}]},"mark":{"type":"text","text":"lag","color":"#F06A6A","fontSize":8,"baseline":"middle"},"encoding":{"x":{"datum":2,"type":"quantitative","scale":{"domain":[-2,26]}},"y":{"datum":0.36,"type":"quantitative","scale":{"domain":[0,1.5]}}}},
      {"data":{"name":"panels"},"transform":[{"filter":"datum.strain == 'Strain 5'"}],"mark":{"type":"line","strokeWidth":0.8},"encoding":{"x":{"field":"time","type":"quantitative","scale":{"domain":[-2,26]},"axis":{"values":[0,4,8,12,16,20,24],"tickCount":50,"format":"d","title":"Time (hr)","titleFontSize":7.5,"labelOverlap":false}},"y":{"field":"od","type":"quantitative","scale":{"domain":[0,1.5]},"axis":{"values":[0,0.5,1,1.5],"tickCount":50,"format":".1f","title":"OD630","labelOverlap":false}},"color":{"field":"trt","type":"nominal","scale":{"domain":["CS-casein-Amla","Amla","CS-casein"],"range":["#F5B4F1","#B9A2EA","#A3C1EF"]},"legend":null}}},
      {"data":{"name":"panels"},"transform":[{"filter":"datum.strain == 'Strain 5'"}],"mark":{"type":"point","filled":true,"opacity":1,"size":20,"strokeWidth":0.5,"shape":"M0,-1L0.87,-0.5L0.87,0.5L0,1L-0.87,0.5L-0.87,-0.5Z"},"encoding":{"x":{"field":"time","type":"quantitative","scale":{"domain":[-2,26]}},"y":{"field":"od","type":"quantitative","scale":{"domain":[0,1.5]}},
       "fill":{"field":"trt","type":"nominal","scale":{"domain":["CS-casein","Amla","CS-casein-Amla"],"range":["#7FA7E6","#A287E3","#F29BEE"]},"legend":{"title":null,"orient":"none","legendX":7.3,"legendY":0.3,"symbolType":"M-1,0L-0.4,0M0.4,0L1,0M0,-0.45L0.39,-0.22L0.39,0.22L0,0.45L-0.39,0.22L-0.39,-0.22Z","symbolSize":90,"symbolStrokeWidth":0.8}},
       "stroke":{"field":"trt","type":"nominal","scale":{"domain":["CS-casein","Amla","CS-casein-Amla"],"range":["#7FA7E6","#A287E3","#F29BEE"]},"legend":{"title":null,"orient":"none","legendX":7.3,"legendY":0.3,"symbolType":"M-1,0L-0.4,0M0.4,0L1,0M0,-0.45L0.39,-0.22L0.39,0.22L0,0.45L-0.39,0.22L-0.39,-0.22Z","symbolSize":90,"symbolStrokeWidth":0.8}}}}
     ]},
    {"width":125,"height":82,"title":{"text":"Strain 6","offset":20.5,"frame":"group"},
     "layer":[
      {"data":{"values":[{}]},"mark":{"type":"rule","color":"#F06A6A","strokeWidth":0.8},"encoding":{"x":{"datum":0,"type":"quantitative","scale":{"domain":[-2,26]}},"x2":{"datum":8},"y":{"datum":0.19,"type":"quantitative","scale":{"domain":[0,1]}}}},
      {"data":{"values":[{}]},"mark":{"type":"rule","color":"#F06A6A","strokeWidth":0.8},"encoding":{"x":{"datum":0,"type":"quantitative","scale":{"domain":[-2,26]}},"y":{"datum":0.128,"type":"quantitative","scale":{"domain":[0,1]}},"y2":{"datum":0.19}}},
      {"data":{"values":[{}]},"mark":{"type":"rule","color":"#F06A6A","strokeWidth":0.8},"encoding":{"x":{"datum":8,"type":"quantitative","scale":{"domain":[-2,26]}},"y":{"datum":0.128,"type":"quantitative","scale":{"domain":[0,1]}},"y2":{"datum":0.19}}},
      {"data":{"values":[{}]},"mark":{"type":"text","text":"lag","color":"#F06A6A","fontSize":8,"baseline":"middle"},"encoding":{"x":{"datum":4,"type":"quantitative","scale":{"domain":[-2,26]}},"y":{"datum":0.264,"type":"quantitative","scale":{"domain":[0,1]}}}},
      {"data":{"name":"panels"},"transform":[{"filter":"datum.strain == 'Strain 6'"}],"mark":{"type":"line","strokeWidth":0.8},"encoding":{"x":{"field":"time","type":"quantitative","scale":{"domain":[-2,26]},"axis":{"values":[0,4,8,12,16,20,24],"tickCount":50,"format":"d","title":"Time (hr)","titleFontSize":7.5,"labelOverlap":false}},"y":{"field":"od","type":"quantitative","scale":{"domain":[0,1]},"axis":{"values":[0,0.2,0.4,0.6,0.8,1],"tickCount":50,"format":".1f","title":"OD630","labelOverlap":false}},"color":{"field":"trt","type":"nominal","scale":{"domain":["CS-casein-Amla","Amla","CS-casein"],"range":["#F5B4F1","#B9A2EA","#A3C1EF"]},"legend":null}}},
      {"data":{"name":"panels"},"transform":[{"filter":"datum.strain == 'Strain 6'"}],"mark":{"type":"point","filled":true,"opacity":1,"size":22,"strokeWidth":1.1,"shape":"M-0.8,-0.8L0.8,0.8M-0.8,0.8L0.8,-0.8"},"encoding":{"x":{"field":"time","type":"quantitative","scale":{"domain":[-2,26]}},"y":{"field":"od","type":"quantitative","scale":{"domain":[0,1]}},
       "fill":{"field":"trt","type":"nominal","scale":{"domain":["CS-casein","Amla","CS-casein-Amla"],"range":["#4A6DB8","#7E55C8","#C04FC4"]},"legend":{"title":null,"orient":"none","legendX":10.6,"legendY":4.3,"symbolType":"M-1,0L1,0M-0.35,-0.35L0.35,0.35M-0.35,0.35L0.35,-0.35","symbolSize":90,"symbolStrokeWidth":0.9}},
       "stroke":{"field":"trt","type":"nominal","scale":{"domain":["CS-casein","Amla","CS-casein-Amla"],"range":["#4A6DB8","#7E55C8","#C04FC4"]},"legend":{"title":null,"orient":"none","legendX":10.6,"legendY":4.3,"symbolType":"M-1,0L1,0M-0.35,-0.35L0.35,0.35M-0.35,0.35L0.35,-0.35","symbolSize":90,"symbolStrokeWidth":0.9}}}}
     ]}
    ]}
   ]}
  ]},
 {"spacing":29,
  "resolve":{"scale":{"color":"independent","fill":"independent","stroke":"independent","shape":"independent"},"legend":{"color":"independent","fill":"independent","stroke":"independent","shape":"independent"}},
  "hconcat":[
  {"width":124,"height":81,"title":{"text":"Strain 7","offset":5.8,"frame":"group"},
   "layer":[
    {"data":{"values":[{}]},"mark":{"type":"rule","color":"#F06A6A","strokeWidth":0.8},"encoding":{"x":{"datum":0,"type":"quantitative","scale":{"domain":[-2,26]}},"x2":{"datum":4},"y":{"datum":0.165,"type":"quantitative","scale":{"domain":[0,1]}}}},
    {"data":{"values":[{}]},"mark":{"type":"rule","color":"#F06A6A","strokeWidth":0.8},"encoding":{"x":{"datum":0,"type":"quantitative","scale":{"domain":[-2,26]}},"y":{"datum":0.1,"type":"quantitative","scale":{"domain":[0,1]}},"y2":{"datum":0.165}}},
    {"data":{"values":[{}]},"mark":{"type":"rule","color":"#F06A6A","strokeWidth":0.8},"encoding":{"x":{"datum":4,"type":"quantitative","scale":{"domain":[-2,26]}},"y":{"datum":0.1,"type":"quantitative","scale":{"domain":[0,1]}},"y2":{"datum":0.165}}},
    {"data":{"values":[{}]},"mark":{"type":"text","text":"lag","color":"#F06A6A","fontSize":8,"baseline":"middle"},"encoding":{"x":{"datum":2,"type":"quantitative","scale":{"domain":[-2,26]}},"y":{"datum":0.24,"type":"quantitative","scale":{"domain":[0,1]}}}},
    {"data":{"name":"panels"},"transform":[{"filter":"datum.strain == 'Strain 7'"}],"mark":{"type":"line","strokeWidth":0.8},"encoding":{"x":{"field":"time","type":"quantitative","scale":{"domain":[-2,26]},"axis":{"values":[0,4,8,12,16,20,24],"tickCount":50,"format":"d","title":"Time (hr)","titleFontSize":7.5,"labelOverlap":false}},"y":{"field":"od","type":"quantitative","scale":{"domain":[0,1]},"axis":{"values":[0,0.2,0.4,0.6,0.8,1],"tickCount":50,"format":".1f","title":"OD630","labelOverlap":false}},"color":{"field":"trt","type":"nominal","scale":{"domain":["CS-casein-Amla","Amla","CS-casein"],"range":["#F5B4F1","#B9A2EA","#A3C1EF"]},"legend":null}}},
    {"data":{"name":"panels"},"transform":[{"filter":"datum.strain == 'Strain 7'"}],"mark":{"type":"point","filled":true,"opacity":1,"size":24,"strokeWidth":1.1,"shape":"M0,-1L0,1M-1,0L1,0"},"encoding":{"x":{"field":"time","type":"quantitative","scale":{"domain":[-2,26]}},"y":{"field":"od","type":"quantitative","scale":{"domain":[0,1]}},
     "fill":{"field":"trt","type":"nominal","scale":{"domain":["CS-casein","Amla","CS-casein-Amla"],"range":["#4066B5","#7535A8","#A532A5"]},"legend":{"title":null,"orient":"none","legendX":4.6,"legendY":-11.7,"symbolType":"M-1,0L1,0M0,-0.45L0,0.45","symbolSize":90,"symbolStrokeWidth":0.9}},
     "stroke":{"field":"trt","type":"nominal","scale":{"domain":["CS-casein","Amla","CS-casein-Amla"],"range":["#4066B5","#7535A8","#A532A5"]},"legend":{"title":null,"orient":"none","legendX":4.6,"legendY":-11.7,"symbolType":"M-1,0L1,0M0,-0.45L0,0.45","symbolSize":90,"symbolStrokeWidth":0.9}}}}
   ]},
  {"spacing":32,
   "resolve":{"scale":{"color":"independent","fill":"independent","stroke":"independent","shape":"independent"},"legend":{"color":"independent","fill":"independent","stroke":"independent","shape":"independent"}},
   "hconcat":[
   {"width":123,"height":81,"title":{"text":"Strain 8","offset":10.8,"frame":"group"},
    "layer":[
     {"data":{"values":[{}]},"mark":{"type":"rule","color":"#F06A6A","strokeWidth":0.8},"encoding":{"x":{"datum":0,"type":"quantitative","scale":{"domain":[-2,26]}},"x2":{"datum":8},"y":{"datum":0.2,"type":"quantitative","scale":{"domain":[0,1]}}}},
     {"data":{"values":[{}]},"mark":{"type":"rule","color":"#F06A6A","strokeWidth":0.8},"encoding":{"x":{"datum":0,"type":"quantitative","scale":{"domain":[-2,26]}},"y":{"datum":0.135,"type":"quantitative","scale":{"domain":[0,1]}},"y2":{"datum":0.2}}},
     {"data":{"values":[{}]},"mark":{"type":"rule","color":"#F06A6A","strokeWidth":0.8},"encoding":{"x":{"datum":8,"type":"quantitative","scale":{"domain":[-2,26]}},"y":{"datum":0.135,"type":"quantitative","scale":{"domain":[0,1]}},"y2":{"datum":0.2}}},
     {"data":{"values":[{}]},"mark":{"type":"text","text":"lag","color":"#F06A6A","fontSize":8,"baseline":"middle"},"encoding":{"x":{"datum":4,"type":"quantitative","scale":{"domain":[-2,26]}},"y":{"datum":0.274,"type":"quantitative","scale":{"domain":[0,1]}}}},
     {"data":{"name":"panels"},"transform":[{"filter":"datum.strain == 'Strain 8'"}],"mark":{"type":"line","strokeWidth":0.8},"encoding":{"x":{"field":"time","type":"quantitative","scale":{"domain":[-2,26]},"axis":{"values":[0,4,8,12,16,20,24],"tickCount":50,"format":"d","title":"Time (hr)","titleFontSize":7.5,"labelOverlap":false}},"y":{"field":"od","type":"quantitative","scale":{"domain":[0,1]},"axis":{"values":[0,0.2,0.4,0.6,0.8,1],"tickCount":50,"format":".1f","title":"OD630","labelOverlap":false}},"color":{"field":"trt","type":"nominal","scale":{"domain":["CS-casein-Amla","Amla","CS-casein"],"range":["#F5B4F1","#B9A2EA","#A3C1EF"]},"legend":null}}},
     {"data":{"name":"panels"},"transform":[{"filter":"datum.strain == 'Strain 8'"}],"mark":{"type":"point","filled":true,"opacity":1,"size":24,"strokeWidth":0.5,"shape":"M0,-1L0.22,-0.31L0.95,-0.31L0.36,0.12L0.59,0.81L0,0.38L-0.59,0.81L-0.36,0.12L-0.95,-0.31L-0.22,-0.31Z"},"encoding":{"x":{"field":"time","type":"quantitative","scale":{"domain":[-2,26]}},"y":{"field":"od","type":"quantitative","scale":{"domain":[0,1]}},
      "fill":{"field":"trt","type":"nominal","scale":{"domain":["CS-casein","Amla","CS-casein-Amla"],"range":["#7FA7E6","#A287E3","#F29BEE"]},"legend":{"title":null,"orient":"none","legendX":8.3,"legendY":-6.7,"symbolType":"M-1,0L-0.45,0M0.45,0L1,0M0,-0.45L0.1,-0.14L0.43,-0.14L0.16,0.05L0.27,0.36L0,0.17L-0.27,0.36L-0.16,0.05L-0.43,-0.14L-0.1,-0.14Z","symbolSize":90,"symbolStrokeWidth":0.8}},
      "stroke":{"field":"trt","type":"nominal","scale":{"domain":["CS-casein","Amla","CS-casein-Amla"],"range":["#7FA7E6","#A287E3","#F29BEE"]},"legend":{"title":null,"orient":"none","legendX":8.3,"legendY":-6.7,"symbolType":"M-1,0L-0.45,0M0.45,0L1,0M0,-0.45L0.1,-0.14L0.43,-0.14L0.16,0.05L0.27,0.36L0,0.17L-0.27,0.36L-0.16,0.05L-0.43,-0.14L-0.1,-0.14Z","symbolSize":90,"symbolStrokeWidth":0.8}}}}
    ]},
   {"spacing":7,
    "resolve":{"scale":{"color":"independent","fill":"independent","stroke":"independent","shape":"independent"},"legend":{"color":"independent","fill":"independent","stroke":"independent","shape":"independent"}},
    "hconcat":[
    {"width":122,"height":81,"title":{"text":"Strain 9","offset":14.5,"frame":"group"},
     "layer":[
      {"data":{"values":[{}]},"mark":{"type":"rule","color":"#F06A6A","strokeWidth":0.8},"encoding":{"x":{"datum":0,"type":"quantitative","scale":{"domain":[-2,26]}},"x2":{"datum":8},"y":{"datum":0.196,"type":"quantitative","scale":{"domain":[0,1]}}}},
      {"data":{"values":[{}]},"mark":{"type":"rule","color":"#F06A6A","strokeWidth":0.8},"encoding":{"x":{"datum":0,"type":"quantitative","scale":{"domain":[-2,26]}},"y":{"datum":0.118,"type":"quantitative","scale":{"domain":[0,1]}},"y2":{"datum":0.196}}},
      {"data":{"values":[{}]},"mark":{"type":"rule","color":"#F06A6A","strokeWidth":0.8},"encoding":{"x":{"datum":8,"type":"quantitative","scale":{"domain":[-2,26]}},"y":{"datum":0.118,"type":"quantitative","scale":{"domain":[0,1]}},"y2":{"datum":0.196}}},
      {"data":{"values":[{}]},"mark":{"type":"text","text":"lag","color":"#F06A6A","fontSize":8,"baseline":"middle"},"encoding":{"x":{"datum":4,"type":"quantitative","scale":{"domain":[-2,26]}},"y":{"datum":0.265,"type":"quantitative","scale":{"domain":[0,1]}}}},
      {"data":{"name":"panels"},"transform":[{"filter":"datum.strain == 'Strain 9'"}],"mark":{"type":"line","strokeWidth":0.8},"encoding":{"x":{"field":"time","type":"quantitative","scale":{"domain":[-2,26]},"axis":{"values":[0,4,8,12,16,20,24],"tickCount":50,"format":"d","title":"Time (hr)","titleFontSize":7.5,"labelOverlap":false}},"y":{"field":"od","type":"quantitative","scale":{"domain":[0,1]},"axis":{"values":[0,0.2,0.4,0.6,0.8,1],"tickCount":50,"format":".1f","title":"OD630","labelOverlap":false}},"color":{"field":"trt","type":"nominal","scale":{"domain":["CS-casein-Amla","Amla","CS-casein"],"range":["#F5B4F1","#B9A2EA","#A3C1EF"]},"legend":null}}},
      {"data":{"name":"panels"},"transform":[{"filter":"datum.strain == 'Strain 9'"}],"mark":{"type":"point","filled":true,"opacity":1,"size":20,"strokeWidth":1.1,"shape":"M0,-1L0,1M-1,0L1,0M-0.7,-0.7L0.7,0.7M-0.7,0.7L0.7,-0.7"},"encoding":{"x":{"field":"time","type":"quantitative","scale":{"domain":[-2,26]}},"y":{"field":"od","type":"quantitative","scale":{"domain":[0,1]}},
       "fill":{"field":"trt","type":"nominal","scale":{"domain":["CS-casein","Amla","CS-casein-Amla"],"range":["#2D4F93","#6C2EA0","#B21DB6"]},"legend":{"title":null,"orient":"none","legendX":8.3,"legendY":-2.7,"symbolType":"M-1,0L1,0M0,-0.45L0,0.45M-0.32,-0.32L0.32,0.32M-0.32,0.32L0.32,-0.32","symbolSize":90,"symbolStrokeWidth":0.9}},
       "stroke":{"field":"trt","type":"nominal","scale":{"domain":["CS-casein","Amla","CS-casein-Amla"],"range":["#2D4F93","#6C2EA0","#B21DB6"]},"legend":{"title":null,"orient":"none","legendX":8.3,"legendY":-2.7,"symbolType":"M-1,0L1,0M0,-0.45L0,0.45M-0.32,-0.32L0.32,0.32M-0.32,0.32L0.32,-0.32","symbolSize":90,"symbolStrokeWidth":0.9}}}}
     ]},
    {"width":127,"height":81,"title":{"text":"Strain 10","offset":14.5,"frame":"group"},
     "layer":[
      {"data":{"values":[{}]},"mark":{"type":"rule","color":"#F06A6A","strokeWidth":0.8},"encoding":{"x":{"datum":0,"type":"quantitative","scale":{"domain":[-2,26]}},"x2":{"datum":4},"y":{"datum":0.243,"type":"quantitative","scale":{"domain":[0,1.5]}}}},
      {"data":{"values":[{}]},"mark":{"type":"rule","color":"#F06A6A","strokeWidth":0.8},"encoding":{"x":{"datum":0,"type":"quantitative","scale":{"domain":[-2,26]}},"y":{"datum":0.128,"type":"quantitative","scale":{"domain":[0,1.5]}},"y2":{"datum":0.243}}},
      {"data":{"values":[{}]},"mark":{"type":"rule","color":"#F06A6A","strokeWidth":0.8},"encoding":{"x":{"datum":4,"type":"quantitative","scale":{"domain":[-2,26]}},"y":{"datum":0.128,"type":"quantitative","scale":{"domain":[0,1.5]}},"y2":{"datum":0.243}}},
      {"data":{"values":[{}]},"mark":{"type":"text","text":"lag","color":"#F06A6A","fontSize":8,"baseline":"middle"},"encoding":{"x":{"datum":2,"type":"quantitative","scale":{"domain":[-2,26]}},"y":{"datum":0.37,"type":"quantitative","scale":{"domain":[0,1.5]}}}},
      {"data":{"name":"panels"},"transform":[{"filter":"datum.strain == 'Strain 10'"}],"mark":{"type":"line","strokeWidth":0.8},"encoding":{"x":{"field":"time","type":"quantitative","scale":{"domain":[-2,26]},"axis":{"values":[0,4,8,12,16,20,24],"tickCount":50,"format":"d","title":"Time (hr)","titleFontSize":7.5,"labelOverlap":false}},"y":{"field":"od","type":"quantitative","scale":{"domain":[0,1.5]},"axis":{"values":[0,0.5,1,1.5],"tickCount":50,"format":".1f","title":"OD630","labelOverlap":false}},"color":{"field":"trt","type":"nominal","scale":{"domain":["CS-casein-Amla","Amla","CS-casein"],"range":["#F5B4F1","#B9A2EA","#A3C1EF"]},"legend":null}}},
      {"data":{"name":"panels"},"transform":[{"filter":"datum.strain == 'Strain 10'"}],"mark":{"type":"point","filled":true,"opacity":1,"size":22,"strokeWidth":0.5,"shape":"triangle-down"},"encoding":{"x":{"field":"time","type":"quantitative","scale":{"domain":[-2,26]}},"y":{"field":"od","type":"quantitative","scale":{"domain":[0,1.5]}},
       "fill":{"field":"trt","type":"nominal","scale":{"domain":["CS-casein","Amla","CS-casein-Amla"],"range":["#7FA7E6","#A287E3","#F29BEE"]},"legend":{"title":null,"orient":"none","legendX":7.3,"legendY":-2.7,"symbolType":"M-1,0L-0.45,0M0.45,0L1,0M-0.45,-0.35L0.45,-0.35L0,0.45Z","symbolSize":90,"symbolStrokeWidth":0.8}},
       "stroke":{"field":"trt","type":"nominal","scale":{"domain":["CS-casein","Amla","CS-casein-Amla"],"range":["#7FA7E6","#A287E3","#F29BEE"]},"legend":{"title":null,"orient":"none","legendX":7.3,"legendY":-2.7,"symbolType":"M-1,0L-0.45,0M0.45,0L1,0M-0.45,-0.35L0.45,-0.35L0,0.45Z","symbolSize":90,"symbolStrokeWidth":0.8}}}}
     ]}
    ]}
   ]}
  ]}
 ]}
]
}
